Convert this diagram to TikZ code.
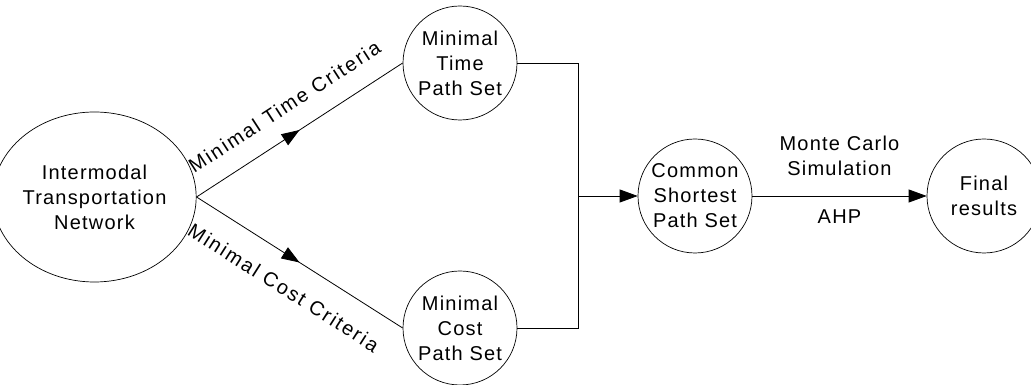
\documentclass[tikz,border=0pt]{standalone}
\usepackage{fontspec}
\setmainfont{Liberation Sans}
\newfontfamily\nodefont[LetterSpace=6]{Liberation Sans}
\newfontfamily\labelfont[LetterSpace=10]{Liberation Sans}
\usetikzlibrary{arrows.meta,shapes.geometric,decorations.markings}
\begin{document}
\begin{tikzpicture}[x=1pt,y=1pt,
  every node/.style={font=\nodefont\fontsize{20}{25}\selectfont, align=center},
  stage/.style={draw, circle, line width=0.7pt, inner sep=0pt, minimum size=114pt},
  link/.style={line width=0.8pt},
  tip/.style={-{Triangle[length=18pt,width=13pt]}},
  midtip/.style={postaction={decorate}, decoration={markings,
      mark=at position 0.5 with {\arrow{Triangle[length=18pt,width=13pt]}}}},
  edgelabel/.style={font=\labelfont\fontsize{20}{25}\selectfont, sloped, inner sep=0pt}]
\useasboundingbox (0,0) rectangle (1031,385);
\clip (0,0) rectangle (1031,385);

% stages of the method
\node[draw, ellipse, line width=0.7pt, inner sep=0pt,
      minimum width=179pt, minimum height=170pt] (net) at (94.5,188)
      {Intermodal\\Transportation\\Network};
\node[stage] (time) at (460,322) {Minimal\\Time\\Path Set};
\node[stage] (cost) at (460,57) {Minimal\\Cost\\Path Set};
\node[stage] (common) at (695,189) {Common\\Shortest\\Path Set};
\node[stage] (final) at (984,189) {Final\\results};

\coordinate (join) at (578,189);

% the two criteria
\draw[link, midtip] (net.east) -- node[edgelabel, above=20pt] {Minimal Time Criteria} (time.west);
\draw[link, midtip] (net.east) -- node[edgelabel, below=22pt] {Minimal Cost Criteria} (cost.west);

% merging the two path sets
\draw[link] (time.east) -| (join);
\draw[link] (cost.east) -| (join);
\draw[link, tip] (join) -- (common.west);

% evaluation
\draw[link, tip] (common.east) -- node[above=20pt, inner sep=0pt] {Monte Carlo\\Simulation}
                                  node[below=13pt, inner sep=0pt] {AHP} (final.west);
\end{tikzpicture}
\end{document}
